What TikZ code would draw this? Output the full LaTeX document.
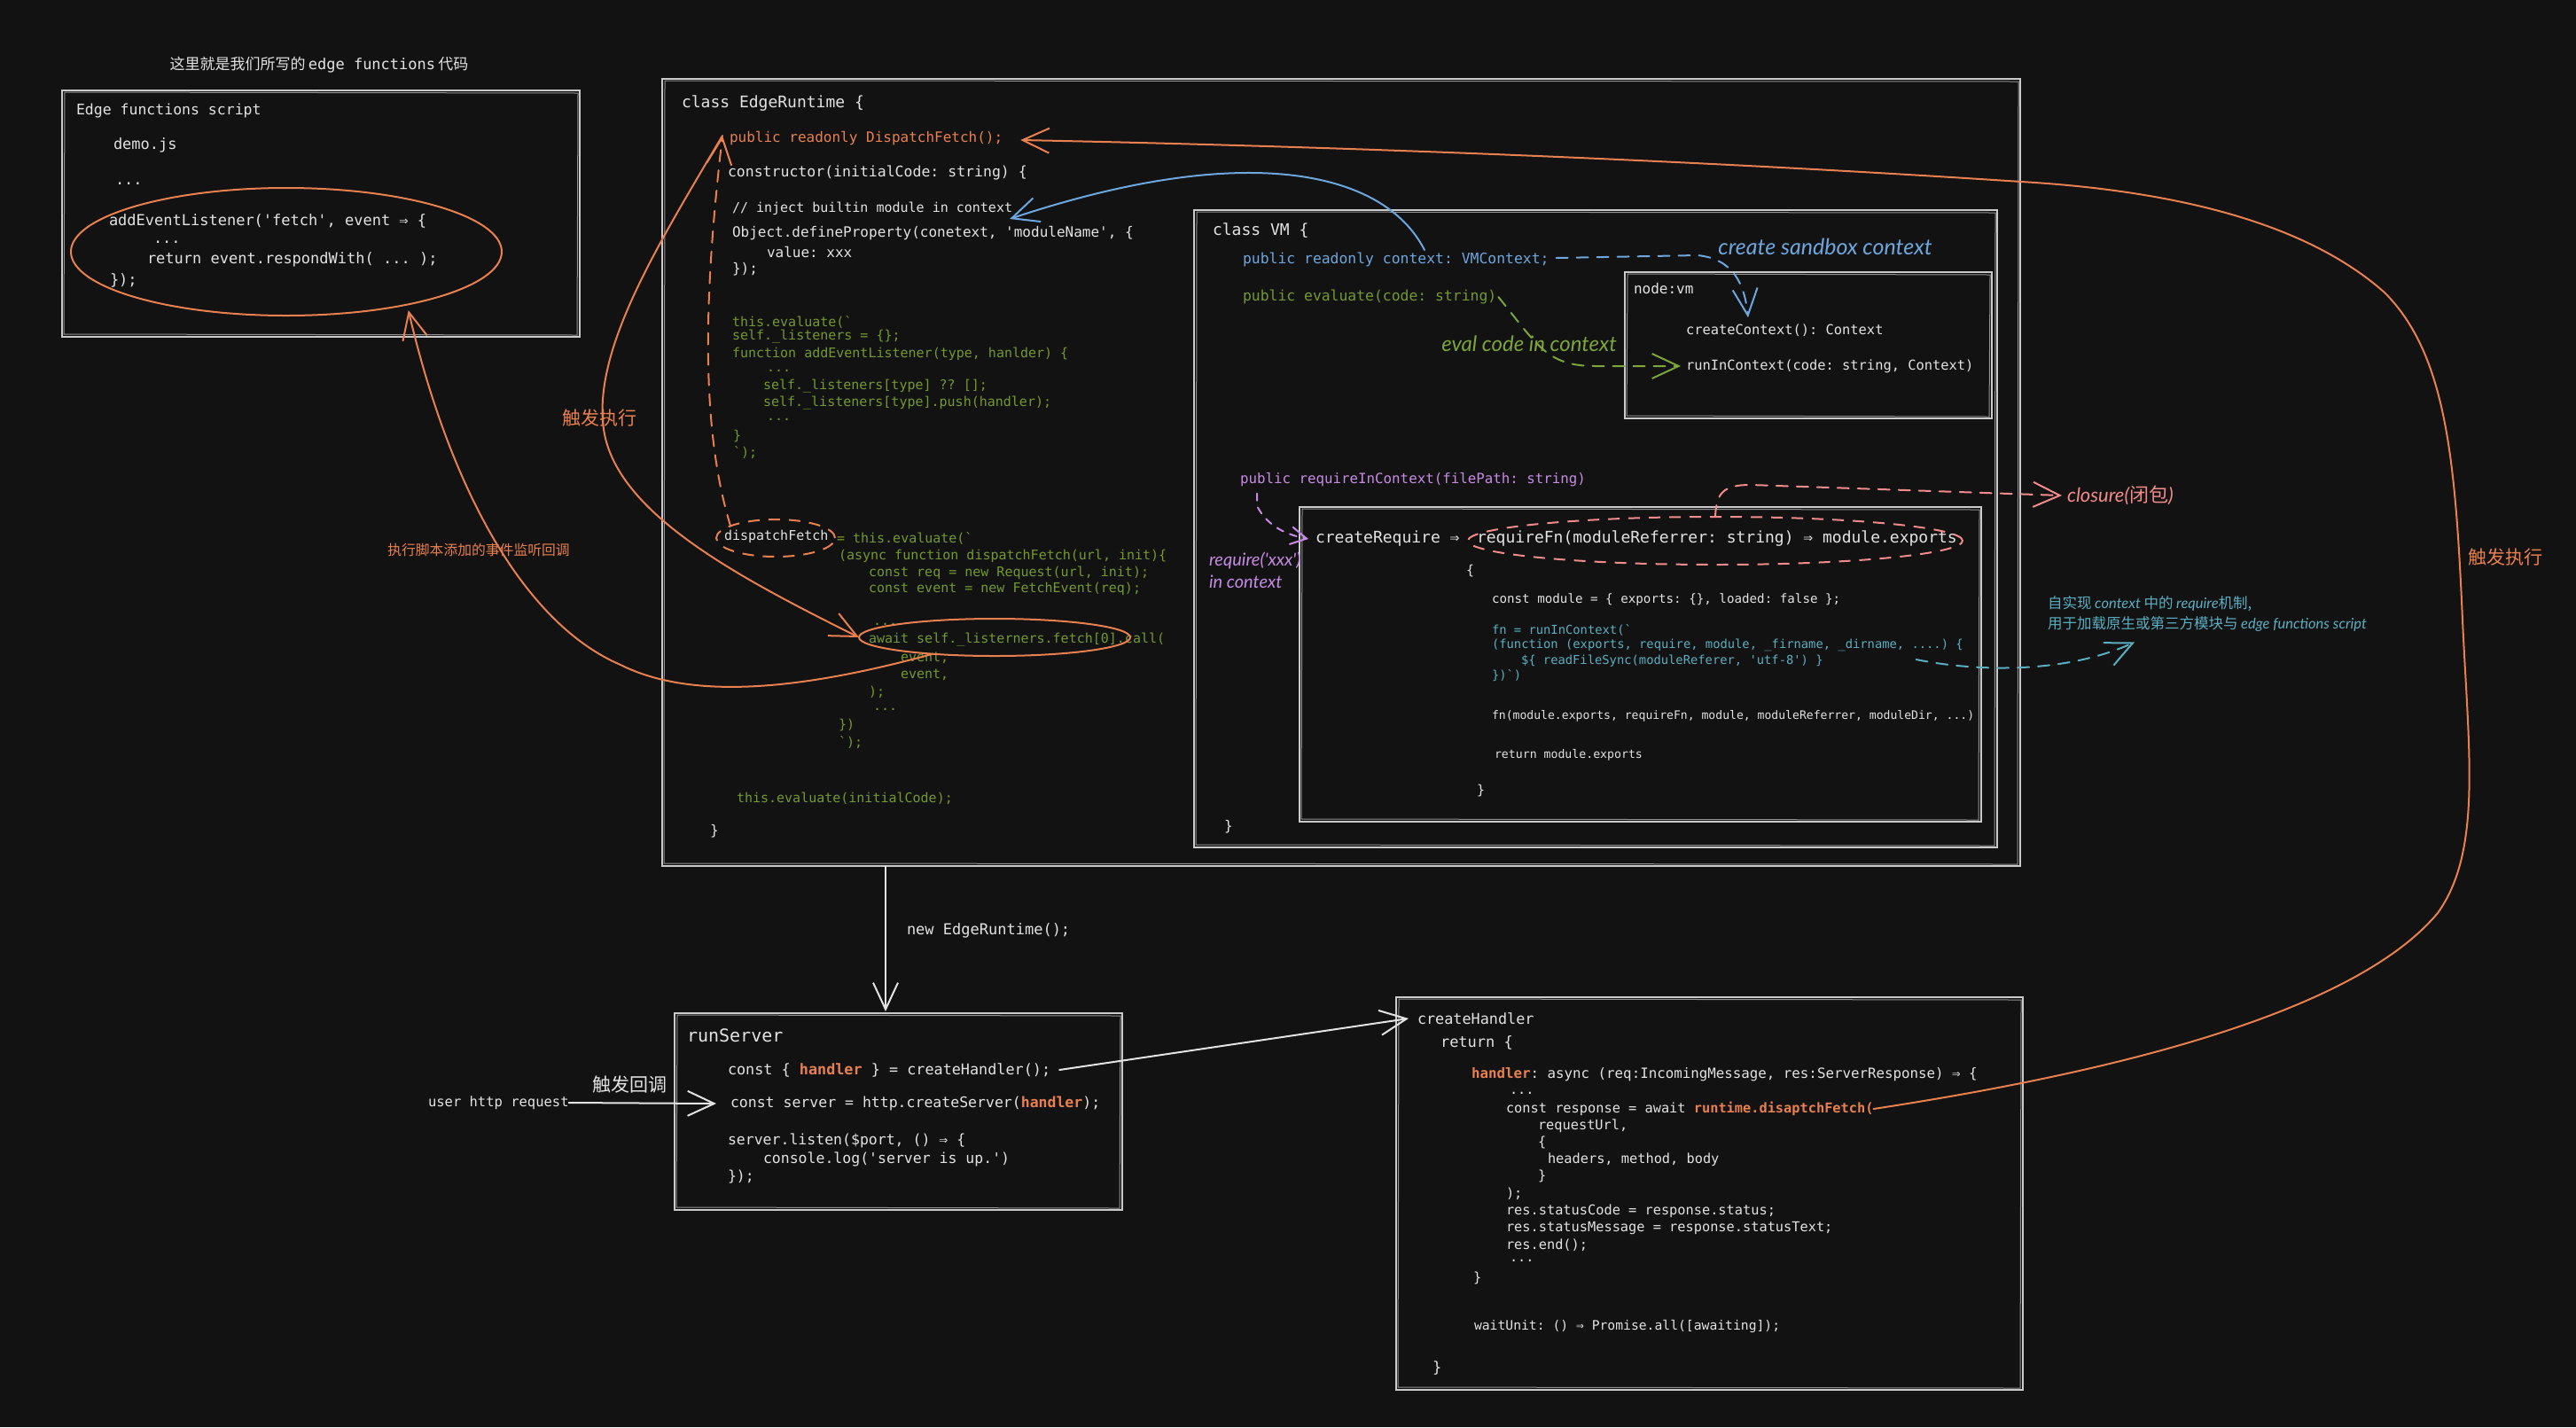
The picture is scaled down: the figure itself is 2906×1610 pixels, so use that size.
\documentclass[tikz,border=0pt]{standalone}
\usepackage{fontspec}
\setmonofont{DejaVu Sans Mono}
\newfontfamily\cjk{Noto Sans CJK SC}
\newfontfamily\hand{Lato}
\usetikzlibrary{arrows.meta,shapes.geometric,calc,fit}
\definecolor{bg}{HTML}{121212}
\definecolor{fg}{HTML}{E3E3E3}
\definecolor{boxc}{HTML}{CACACA}
\definecolor{org}{HTML}{E8804F}
\definecolor{grn}{HTML}{74992E}
\definecolor{grh}{HTML}{7DA53A}
\definecolor{blu}{HTML}{6EA6DE}
\definecolor{pur}{HTML}{C68BE3}
\definecolor{pnk}{HTML}{F28B8B}
\definecolor{cyn}{HTML}{5BAFC2}
\newcommand\fsz[1]{\fontsize{#1}{#1}\selectfont}
\newcommand\skl[1]{\draw[skline] ($(#1.north west)+(3,2)$) -- ($(#1.north east)+(-2,3)$) -- ($(#1.south east)+(-3,-2)$) -- ($(#1.south west)+(2,-3)$) -- cycle;}
\tikzset{
 every node/.style={inner sep=0pt, outer sep=0pt},
 skbox/.style={draw=boxc, line width=1.8pt, rectangle},
 skline/.style={draw=boxc!70!bg, line width=1pt},
 cd/.style={anchor=west, text=fg, font=\ttfamily\fsz{#1}},
 cd/.default=16,
 gcd/.style={cd=#1, text=grn},
 gcd/.default=15,
 conn/.style={line width=2pt, line cap=round, line join=round},
 oc/.style={conn, draw=org},
 bc/.style={conn, draw=blu},
 gc/.style={conn, draw=grh},
 pc/.style={conn, draw=pur},
 kc/.style={conn, draw=pnk},
 cc/.style={conn, draw=cyn},
 wc/.style={conn, draw=fg},
 dsh/.style={dash pattern=on 13pt off 10pt},
 >={Straight Barb[length=30pt,width=28pt]},
}
\begin{document}
\begin{tikzpicture}[x=1pt,y=-1pt]
\fill[bg] (0,0) rectangle (2906,1610);
\useasboundingbox (0,0) rectangle (2906,1610);

% ---------- Edge functions script ----------
\node[text=fg] (toplbl) at (360,73) {{\cjk\fsz{17}这里就是我们所写的} {\ttfamily\fsz{17}edge functions} {\cjk\fsz{17}代码}};
\node[skbox, fit={(70,102) (654,380)}] (es) {}; \skl{es}
\node[cd=16.5] (es1) at (86,125) {Edge functions script};
\node[cd=17] (es2) at (128,164) {demo.js};
\node[cd=17] (es3) at (130,207) {...};
\node[cd=17] (es4) at (123,249) {addEventListener('fetch', event ⇒ \{};
\node[cd=17] (es5) at (173,273) {...};
\node[cd=17] (es6) at (166,293) {return event.respondWith( ... );};
\node[cd=17] (es7) at (124,316) {\});};
\node[ellipse, draw=org, line width=2pt, minimum width=486pt, minimum height=144pt] (esell) at (323,284) {};

% ---------- EdgeRuntime ----------
\node[skbox, fit={(747,89) (2279,977)}] (er) {}; \skl{er}
\node[cd=18] (er1) at (769,117) {class EdgeRuntime \{};
\node[cd=16,text=org] (pubdf) at (823,156) {public readonly DispatchFetch();};
\node[cd=16.5] (er2) at (821,195) {constructor(initialCode: string) \{};
\node[cd=15] (inj) at (826,235) {// inject builtin module in context};
\node[cd=16] (er3) at (826,263) {Object.defineProperty(conetext, 'moduleName', \{};
\node[cd=16] (er4) at (865,284) {value: xxx};
\node[cd=16] (er5) at (826,304) {\});};
\node[gcd] (g1) at (826,363) {this.evaluate(`};
\node[gcd] (g2) at (826,380) {self.\_listeners = \{\};};
\node[gcd] (g3) at (826,399) {function addEventListener(type, hanlder) \{};
\node[gcd] (g4) at (865,418) {...};
\node[gcd] (g5) at (861,436) {self.\_listeners[type] ?? [];};
\node[gcd] (g6) at (861,455) {self.\_listeners[type].push(handler);};
\node[gcd] (g7) at (865,473) {...};
\node[gcd] (g8) at (827,492) {\}};
\node[gcd] (g9) at (827,511) {`);};
\node[ellipse, draw=org, line width=2pt, dsh, minimum width=134pt, minimum height=42pt] (dfell) at (875,607) {};
\node[cd=15] (dft) at (817,605) {dispatchFetch};
\node[gcd] (g10) at (944,607) {= this.evaluate(`};
\node[gcd] (g11) at (946,627) {(async function dispatchFetch(url, init)\{};
\node[gcd] (g12) at (980,646) {const req = new Request(url, init);};
\node[gcd] (g13) at (980,664) {const event = new FetchEvent(req);};
\node[gcd] (g14) at (985,704) {...};
\node[gcd] (g15) at (980,722) {await self.\_listerners.fetch[0].call(};
\node[gcd] (g16) at (1016,742) {event,};
\node[gcd] (g17) at (1016,761) {event,};
\node[gcd] (g18) at (980,781) {);};
\node[gcd] (g19) at (985,800) {...};
\node[gcd] (g20) at (946,818) {\})};
\node[gcd] (g21) at (946,838) {`);};
\node[gcd] (g22) at (831,901) {this.evaluate(initialCode);};
\node[cd=16] (er6) at (801,938) {\}};
\node[ellipse, draw=org, line width=2pt, minimum width=306pt, minimum height=42pt] (awell) at (1122,719) {};

% ---------- VM ----------
\node[skbox, fit={(1347,237) (2253,956)}] (vm) {}; \skl{vm}
\node[cd=18] (vm1) at (1368,260) {class VM \{};
\node[cd=16.4,text=blu] (vmctx) at (1402,293) {public readonly context: VMContext;};
\node[cd=16.4,text=grn] (evl) at (1402,335) {public evaluate(code: string)};
\node[skbox, fit={(1833,307) (2247,472)}] (nvm) {}; \skl{nvm}
\node[cd=16] (nv1) at (1843,326) {node:vm};
\node[cd=15.4] (ccx) at (1902,373) {createContext(): Context};
\node[cd=15.4] (rinc) at (1902,413) {runInContext(code: string, Context)};
\node[cd=15.8,text=pur] (rqin) at (1399,541) {public requireInContext(filePath: string)};
\node[skbox, fit={(1466,572) (2235,927)}] (rq) {}; \skl{rq}
\node[cd=18] (creq) at (1484,608) {createRequire ⇒};
\node[cd=18] (rfn) at (1666,608) {requireFn(moduleReferrer: string) ⇒ module.exports};
\node[ellipse, draw=pnk, line width=2pt, dsh, minimum width=558pt, minimum height=54pt] (reqell) at (1935,610) {};
\node[cd=15] (rq1) at (1654,644) {\{};
\node[cd=14.2] (rq2) at (1683,677) {const module = \{ exports: \{\}, loaded: false \};};
\node[cd=13.8,text=cyn] (rq3) at (1683,711) {fn = runInContext(`};
\node[cd=13.8,text=cyn] (rq4) at (1683,728) {(function (exports, require, module, \_firname, \_dirname, ....) \{};
\node[cd=13.8,text=cyn] (rfs) at (1716,746) {\$\{ readFileSync(moduleReferer, 'utf-8') \}};
\node[cd=13.8,text=cyn] (rq5) at (1683,762) {\})`)};
\node[cd=13.1] (rq6) at (1683,808) {fn(module.exports, requireFn, module, moduleReferrer, moduleDir, ...)};
\node[cd=13.2] (rq7) at (1686,852) {return module.exports};
\node[cd=15] (rq8) at (1666,892) {\}};
\node[cd=16] (vm2) at (1381,933) {\}};

% ---------- runServer ----------
\node[skbox, fit={(761,1143) (1266,1365)}] (rs) {}; \skl{rs}
\node[cd=20] (rs1) at (775,1168) {runServer};
\node[cd=16.8] (chd) at (821,1207) {const \{ {\bfseries\color{org}handler} \} = createHandler();};
\node[cd=16.5] (srv) at (824,1245) {const server = http.createServer({\bfseries\color{org}handler});};
\node[cd=16.5] (rs2) at (821,1287) {server.listen(\$port, () ⇒ \{};
\node[cd=16.5] (rs3) at (861,1308) {console.log('server is up.')};
\node[cd=16.5] (rs4) at (821,1328) {\});};
\node[cd=15.5] (uhr) at (483,1244) {user http request};
\node[text=fg, font=\cjk\fsz{21}] (cb) at (710,1223) {触发回调};

% ---------- createHandler ----------
\node[skbox, fit={(1575,1125) (2282,1568)}] (ch) {}; \skl{ch}
\node[cd=16.8] (cht) at (1599,1149) {createHandler};
\node[cd=17] (ch1) at (1625,1176) {return \{};
\node[cd=15.8] (ch2) at (1660,1212) {{\bfseries\color{org}handler}: async (req:IncomingMessage, res:ServerResponse) ⇒ \{};
\node[cd=15.3] (ch3) at (1703,1233) {...};
\node[cd=15.3] (rtdf) at (1699,1251) {const response = await {\bfseries\color{org}runtime.disaptchFetch(}};
\node[cd=15.3] (ch4) at (1735,1270) {requestUrl,};
\node[cd=15.3] (ch5) at (1735,1289) {\{};
\node[cd=15.3] (ch6) at (1746,1308) {headers, method, body};
\node[cd=15.3] (ch7) at (1735,1327) {\}};
\node[cd=15.3] (ch8) at (1699,1347) {);};
\node[cd=15.3] (ch9) at (1699,1366) {res.statusCode = response.status;};
\node[cd=15.3] (ch10) at (1699,1386) {res.statusMessage = response.statusText;};
\node[cd=15.3] (ch11) at (1699,1405) {res.end();};
\node[cd=15.3] (ch12) at (1703,1422) {...};
\node[cd=15.3] (ch13) at (1662,1442) {\}};
\node[cd=14.7] (ch14) at (1663,1496) {waitUnit: () ⇒ Promise.all([awaiting]);};
\node[cd=17] (ch15) at (1616,1543) {\}};

% ---------- labels ----------
\node[text=org, font=\cjk\fsz{21}] (lb1) at (676,471) {触发执行};
\node[text=org, font=\cjk\fsz{15.8}] (lb2) at (540,620) {执行脚本添加的事件监听回调};
\node[text=org, font=\cjk\fsz{21}] (lb3) at (2826,628) {触发执行};
\node[cd=17] (ner) at (1023,1050) {new EdgeRuntime();};
\node[text=blu, font=\hand\itshape\fsz{25}] (csc) at (2059,278) {create sandbox context};
\node[text=grh, font=\hand\itshape\fsz{24}] (ecc) at (1725,388) {eval code in context};
\node[anchor=west, text=pur, font=\hand\itshape\fsz{20}] (rx1) at (1364,632) {require('xxx')};
\node[anchor=west, text=pur, font=\hand\itshape\fsz{20}] (rx2) at (1364,656) {in context};
\node[anchor=west, text=pnk, font=\hand\itshape\fsz{22}] (clo) at (2332,559) {closure({\cjk 闭包})};
\node[anchor=west, text=cyn, font=\cjk\fsz{16.5}] (cy1) at (2310,681) {自实现 {\hand\itshape context} 中的 {\hand\itshape require}机制,};
\node[anchor=west, text=cyn, font=\cjk\fsz{16.5}] (cy2) at (2310,704) {用于加载原生或第三方模块与 {\hand\itshape edge functions script}};

% ---------- connectors ----------
\draw[oc, dsh, ->] (dfell.165) .. controls (786,470) and (798,300) .. ($(pubdf.west)+(-8,-3)$);
\draw[oc, ->] ($(pubdf.west)+(-8,-3)$) .. controls (740,280) and (665,400) .. (682,490) .. controls (700,580) and (830,650) .. (awell.west);
\draw[oc, ->] (awell.195) .. controls (880,785) and (770,785) .. (700,750) .. controls (595,705) and (510,560) .. ($(esell.-22)+(-6,8)$);
\draw[bc, ->] ($(vmctx.north west)+(205,-3)$) .. controls (1560,190) and (1400,160) .. ($(inj.east)+(-3,12)$);
\draw[bc, dsh, ->] ($(vmctx.east)+(8,-2)$) -- (1915,288) .. controls (1955,292) and (1968,320) .. ($(ccx.north west)+(70,-8)$);
\draw[gc, dsh, ->] ($(evl.east)+(2,0)$) .. controls (1735,390) and (1745,413) .. (1800,413) -- ($(rinc.west)+(-6,0)$);
\draw[pc, dash pattern=on 8pt off 8pt, -{Straight Barb[length=18pt,width=20pt]}] ($(rqin.south west)+(19,8)$) -- ++(0,14) .. controls (1428,590) and (1445,602) .. ($(creq.west)+(-8,0)$);
\draw[kc, dsh, ->] (reqell.north) .. controls (1936,555) and (1945,547) .. (1975,547) -- ($(clo.west)+(-6,0)$);
\draw[cc, dsh, ->] ($(rfs.east)+(105,-2)$) .. controls (2230,758) and (2330,760) .. ($(cy2.south west)+(98,12)$);
\draw[oc, ->] (rtdf.east) .. controls (2350,1215) and (2650,1150) .. (2750,1030) .. controls (2800,960) and (2785,850) .. (2778,700) .. controls (2770,520) and (2760,400) .. (2690,330) .. controls (2600,250) and (2450,215) .. (2280,205) .. controls (1900,180) and (1500,165) .. ($(pubdf.east)+(20,2)$);
\draw[wc, ->] ($(chd.east)+(10,0)$) -- ($(cht.west)+(-10,0)$);
\draw[wc, ->] (uhr.east) -- ($(srv.west)+(-16,0)$);
\draw[wc, ->] ($(er.south west)+(252,0)$) -- ($(rs.north west)+(238,-2)$);
\end{tikzpicture}
\end{document}
